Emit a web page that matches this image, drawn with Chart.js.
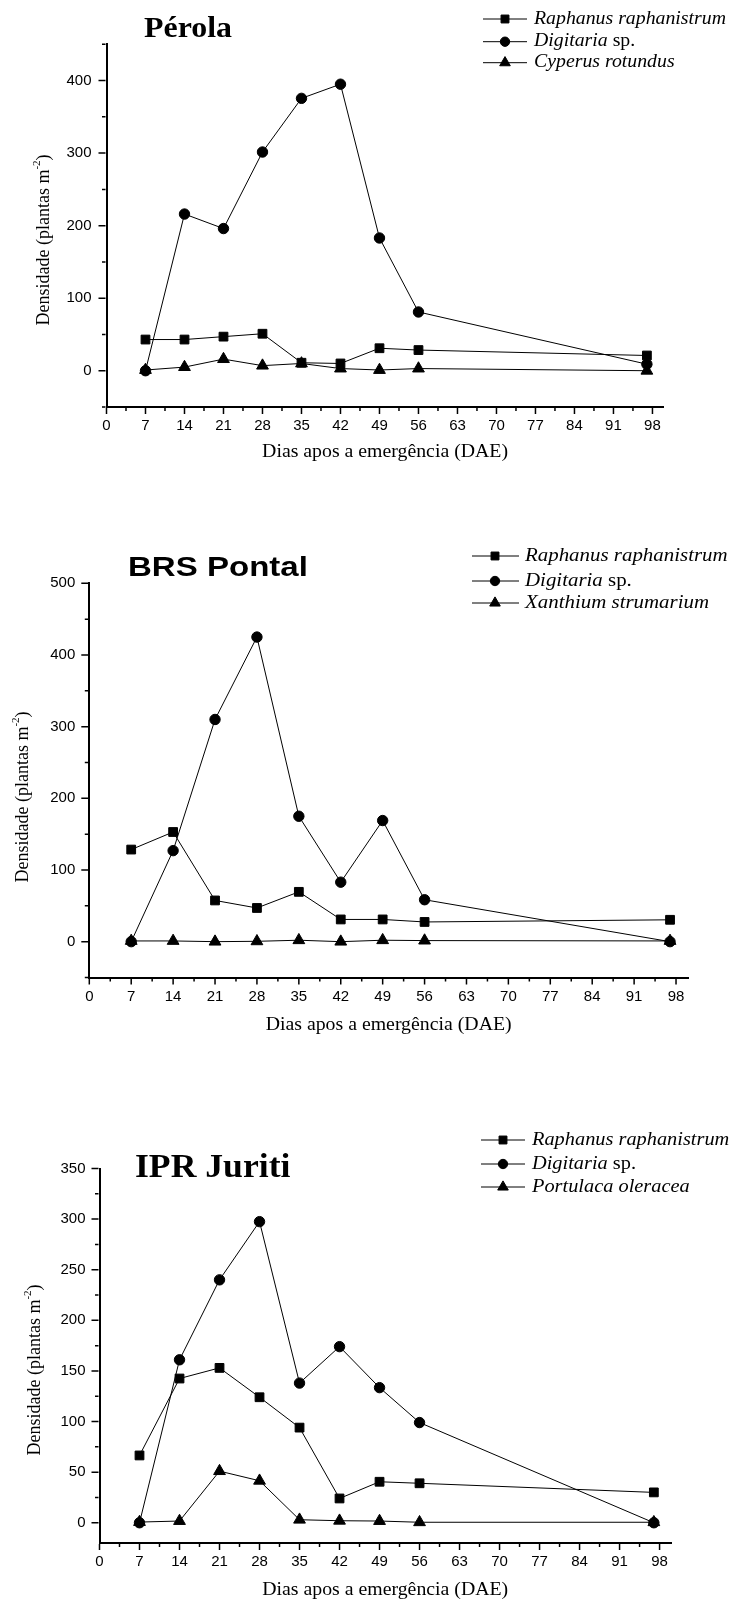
<!DOCTYPE html>
<html lang="pt">
<head>
<meta charset="UTF-8">
<title>Densidade de plantas daninhas</title>
<script src="https://cdn.jsdelivr.net/npm/chart.js@4"></script>
<style>
  body { margin: 0; background: #fff; }
  #wrap { position: relative; width: 729px; height: 1602px; }
  canvas { position: absolute; left: 0; }
</style>
</head>
<body>
<div id="wrap">
<canvas id="c1" width="729" height="470" style="top:0px"></canvas>
<canvas id="c2" width="729" height="535" style="top:510px"></canvas>
<canvas id="c3" width="729" height="512" style="top:1090px"></canvas>
</div>
<script>
// dias apos a emergencia
const days = [7, 14, 21, 28, 35, 42, 49, 56, 97];
const xTicks = [0, 7, 14, 21, 28, 35, 42, 49, 56, 63, 70, 77, 84, 91, 98];

// Pérola
const names1 = ['Raphanus raphanistrum', 'Digitaria sp.', 'Cyperus rotundus'];
const raph1 = [43, 43, 47, 51, 11, 10, 31, 28.5, 21];
const digi1 = [0, 216, 196, 301.5, 375.5, 395, 183, 81, 9];
const cyp1 = [1, 5, 16, 7, 10, 3, 1, 3, 0];
const yTicks1 = [0, 100, 200, 300, 400];

// BRS Pontal
const names2 = ['Raphanus raphanistrum', 'Digitaria sp.', 'Xanthium strumarium'];
const raph2 = [128.5, 153, 57.5, 47, 69.5, 31, 31, 27.5, 30.5];
const digi2 = [0, 127, 310, 425, 175, 83, 169, 58.5, 0];
const xan2 = [1, 1, 0, 0.5, 2, 0, 2, 1.5, 1];
const yTicks2 = [0, 100, 200, 300, 400, 500];

// IPR Juriti
const names3 = ['Raphanus raphanistrum', 'Digitaria sp.', 'Portulaca oleracea'];
const raph3 = [66.5, 142.5, 153, 124, 94, 24, 40.5, 39, 30];
const digi3 = [0, 161, 240, 297.5, 138, 174, 133.5, 99, 0];
const port3 = [0.7, 1.7, 51, 41.5, 3, 2, 1.7, 0.5, 0.5];
const yTicks3 = [0, 50, 100, 150, 200, 250, 300, 350];

const xTitle = 'Dias apos a emergência (DAE)';
const yTitle = ['Densidade (plantas m', '-2', ')'];

const SERIF = '"Liberation Serif", "Times New Roman", serif';
const SANS = '"Liberation Sans", Arial, sans-serif';
const marks = ['rect', 'circle', 'triangle'];
const radii = [6.2, 5.2, 6.8];

function runsWidth(ctx, runs) {
  let w = 0;
  runs.forEach(r => { ctx.font = r.font; w += ctx.measureText(r.text).width; });
  return w;
}
function drawRuns(ctx, runs, x, y, sx, align) {
  const w = runsWidth(ctx, runs) * sx;
  ctx.save();
  ctx.translate(align === 'center' ? x - w / 2 : x, y);
  ctx.scale(sx, 1);
  let p = 0;
  runs.forEach(r => {
    ctx.font = r.font;
    ctx.fillText(r.text, p, r.dy || 0);
    p += ctx.measureText(r.text).width;
  });
  ctx.restore();
}
function nameRuns(name, size) {
  if (name.endsWith(' sp.')) {
    return [{ text: name.slice(0, -4), font: 'italic ' + size + 'px ' + SERIF },
            { text: ' sp.', font: size + 'px ' + SERIF }];
  }
  return [{ text: name, font: 'italic ' + size + 'px ' + SERIF }];
}
function drawMarker(ctx, style, r, x, y) {
  if (Chart.helpers && Chart.helpers.drawPoint) {
    Chart.helpers.drawPoint(ctx, { pointStyle: style, radius: r, rotation: 0, borderWidth: 1 }, x, y);
    return;
  }
  ctx.beginPath();
  if (style === 'rect') { const s = r * Math.SQRT1_2; ctx.rect(x - s, y - s, 2 * s, 2 * s); }
  else if (style === 'circle') ctx.arc(x, y, r, 0, Math.PI * 2);
  else { ctx.moveTo(x, y - r); ctx.lineTo(x + r * 0.866, y + r / 2); ctx.lineTo(x - r * 0.866, y + r / 2); ctx.closePath(); }
  ctx.fill(); ctx.stroke();
}

// minor ticks half way between major ones
function tickMarks(scale, fn) {
  const t = scale.ticks;
  const step = t[1].value - t[0].value, half = step / 2;
  let v = t[0].value;
  while (v - half >= scale.min - 1e-9) v -= half;
  for (; v <= scale.max + 1e-9; v += half) {
    const k = (v - t[0].value) / step;
    fn(scale.getPixelForValue(v), Math.abs(k - Math.round(k)) < 1e-6);
  }
}

const annot = {
  id: 'annot',
  afterDraw(chart, args, o) {
    const ctx = chart.ctx, a = chart.chartArea, T = o.top;
    ctx.save();
    ctx.strokeStyle = '#000';
    ctx.fillStyle = '#000';
    ctx.lineWidth = 1.5;
    ctx.beginPath();
    tickMarks(chart.scales.x, (px, major) => {
      ctx.moveTo(px, a.bottom + 1); ctx.lineTo(px, a.bottom + (major ? 7 : 4));
    });
    tickMarks(chart.scales.y, (py, major) => {
      ctx.moveTo(a.left - 1, py); ctx.lineTo(a.left - (major ? 8 : 4.5), py);
    });
    ctx.stroke();

    // titulo
    ctx.textBaseline = 'alphabetic';
    drawRuns(ctx, [{ text: o.title.text, font: o.title.font }], o.title.x, o.title.y - T, o.title.sx, 'left');

    // legenda
    ctx.textBaseline = 'middle';
    ctx.lineWidth = 1;
    const L = o.legend;
    o.names.forEach((n, i) => {
      const yy = L.rows[i] - T;
      ctx.beginPath(); ctx.moveTo(L.x1, yy); ctx.lineTo(L.x2, yy); ctx.stroke();
      drawMarker(ctx, marks[i], radii[i] * 0.9, L.xm, yy);
      drawRuns(ctx, nameRuns(n, L.size), L.xt, yy, 1.1, 'left');
    });

    // eixo x
    drawRuns(ctx, [{ text: xTitle, font: '18px ' + SERIF }], (a.left + a.right) / 2, o.xTitleY - T, 1.1, 'center');

    // eixo y
    ctx.save();
    ctx.translate(o.yTitle.x, o.yTitle.y - T);
    ctx.rotate(-Math.PI / 2);
    drawRuns(ctx, [
      { text: yTitle[0], font: '18px ' + SERIF },
      { text: yTitle[1], font: '11px ' + SERIF, dy: -7 },
      { text: yTitle[2], font: '18px ' + SERIF }
    ], 0, 0, 1, 'center');
    ctx.restore();
    ctx.restore();
  }
};

function makeChart(id, c, names, series, yTicks) {
  new Chart(document.getElementById(id), {
    type: 'line',
    data: {
      datasets: series.map((vals, i) => ({
        label: names[i],
        data: days.map((d, j) => ({ x: d, y: vals[j] })),
        borderColor: '#000',
        borderWidth: 1,
        backgroundColor: '#000',
        pointStyle: marks[i],
        pointRadius: radii[i],
        pointBackgroundColor: '#000',
        pointBorderColor: '#000',
        pointBorderWidth: 1,
        tension: 0,
        clip: false
      }))
    },
    options: {
      responsive: false,
      animation: false,
      events: [],
      layout: { padding: { left: 0, top: c.area.top - c.top, right: 729 - c.area.right, bottom: 0 } },
      plugins: {
        legend: { display: false },
        tooltip: { enabled: false },
        annot: { top: c.top, title: c.title, legend: c.legend, names: names, xTitleY: c.xTitleY, yTitle: c.yTitle }
      },
      scales: {
        x: {
          type: 'linear', min: 0, max: 100,
          afterBuildTicks: s => { s.ticks = xTicks.map(v => ({ value: v })); },
          afterFit: s => { s.height = c.top + c.height - c.area.bottom; },
          grid: { display: false, drawTicks: false },
          border: { display: true, color: '#000', width: 2 },
          ticks: { color: '#000', font: { family: SANS, size: 15 }, padding: 10, maxRotation: 0, autoSkip: false, callback: v => String(v) }
        },
        y: {
          type: 'linear', min: c.yMin, max: c.yMax,
          afterBuildTicks: s => { s.ticks = yTicks.map(v => ({ value: v })); },
          afterFit: s => { s.width = c.area.left; },
          grid: { display: false, drawTicks: false },
          border: { display: true, color: '#000', width: 2 },
          ticks: { color: '#000', font: { family: SANS, size: 15 }, padding: c.yPad, autoSkip: false, callback: v => String(v) }
        }
      }
    },
    plugins: [annot]
  });
}

makeChart('c1', {
  top: 0, height: 470,
  area: { left: 106.5, right: 663.6, top: 44.3, bottom: 407 },
  yMin: -50, yMax: 450, yPad: 15,
  title: { text: 'Pérola', font: 'bold 29px ' + SERIF, x: 144, y: 37, sx: 1.1 },
  legend: { x1: 483, x2: 527, xm: 505, xt: 534, rows: [19, 41.7, 62.7], size: 18 },
  xTitleY: 452, yTitle: { x: 44.5, y: 240 }
}, names1, [raph1, digi1, cyp1], yTicks1);

makeChart('c2', {
  top: 510, height: 535,
  area: { left: 89.3, right: 688, top: 583.3, bottom: 977.5 },
  yMin: -50, yMax: 500, yPad: 14,
  title: { text: 'BRS Pontal', font: 'bold 28px ' + SANS, x: 128, y: 576, sx: 1.18 },
  legend: { x1: 472, x2: 519, xm: 495, xt: 525, rows: [556, 581, 603], size: 19 },
  xTitleY: 1025, yTitle: { x: 23.5, y: 797 }
}, names2, [raph2, digi2, xan2], yTicks2);

makeChart('c3', {
  top: 1090, height: 512,
  area: { left: 99.5, right: 671, top: 1168.5, bottom: 1543 },
  yMin: -20, yMax: 350, yPad: 14,
  title: { text: 'IPR Juriti', font: 'bold 33px ' + SERIF, x: 135, y: 1177, sx: 1.08 },
  legend: { x1: 481, x2: 525, xm: 503, xt: 532, rows: [1140, 1164, 1187], size: 18.5 },
  xTitleY: 1590, yTitle: { x: 35, y: 1370 }
}, names3, [raph3, digi3, port3], yTicks3);
</script>
</body>
</html>
